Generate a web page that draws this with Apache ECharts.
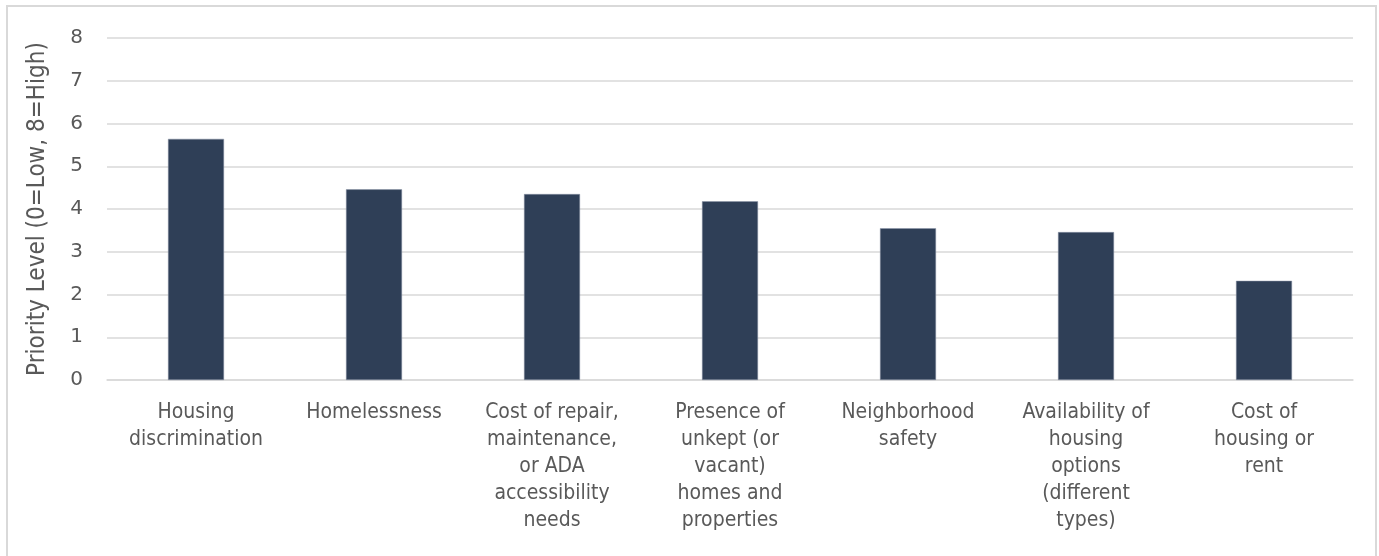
<!DOCTYPE html>
<html>
<head>
<meta charset="utf-8">
<script src="https://cdn.jsdelivr.net/npm/echarts@6/dist/echarts.min.js"></script>
<style>
html,body{margin:0;padding:0;background:#fff;}
#frame{position:absolute;left:6px;top:5px;width:1371px;height:560px;border:2px solid #D9D9D9;box-sizing:border-box;}
#chart{position:absolute;left:0;top:0;width:1379px;height:556px;}
</style>
</head>
<body>
<div id="frame"></div>
<div id="chart"></div>
<script>
var categories = [
  "Housing\ndiscrimination",
  "Homelessness",
  "Cost of repair,\nmaintenance,\nor ADA\naccessibility\nneeds",
  "Presence of\nunkept (or\nvacant)\nhomes and\nproperties",
  "Neighborhood\nsafety",
  "Availability of\nhousing\noptions\n(different\ntypes)",
  "Cost of\nhousing or\nrent"
];
var values = [5.64, 4.46, 4.35, 4.18, 3.55, 3.46, 2.32];
var yTicks = [0, 1, 2, 3, 4, 5, 6, 7, 8];
var yTitle = "Priority Level (0=Low, 8=High)";

var chart = echarts.init(document.getElementById('chart'));
var font = "'DejaVu Sans Condensed', 'DejaVu Sans', Verdana, sans-serif";
var fontWide = "'DejaVu Sans', Verdana, sans-serif";
chart.setOption({
  animation: false,
  grid: {left: 107, right: 26, top: 38, bottom: 176, containLabel: false},
  xAxis: {
    type: 'category',
    data: categories,
    axisTick: {show: false},
    axisLine: {show: true, lineStyle: {color: '#D9D9D9', width: 1.5}},
    axisLabel: {
      interval: 0, margin: 19, color: '#595959',
      fontFamily: font, fontSize: 21, lineHeight: 27, align: 'center'
    }
  },
  yAxis: {
    type: 'value',
    min: yTicks[0], max: yTicks[yTicks.length - 1], interval: 1,
    name: yTitle,
    nameLocation: 'middle',
    nameGap: 57,
    nameTextStyle: {color: '#595959', fontFamily: font, fontSize: 24},
    axisLine: {show: false},
    axisTick: {show: false},
    axisLabel: {color: '#595959', fontFamily: fontWide, fontSize: 20, margin: 24},
    splitLine: {lineStyle: {color: '#D9D9D9', width: 1.5}}
  },
  series: [{
    type: 'bar',
    data: values,
    barWidth: 56,
    itemStyle: {color: '#2F3F57', borderColor: '#8A94A6', borderWidth: 0.5}
  }]
});
</script>
</body>
</html>
